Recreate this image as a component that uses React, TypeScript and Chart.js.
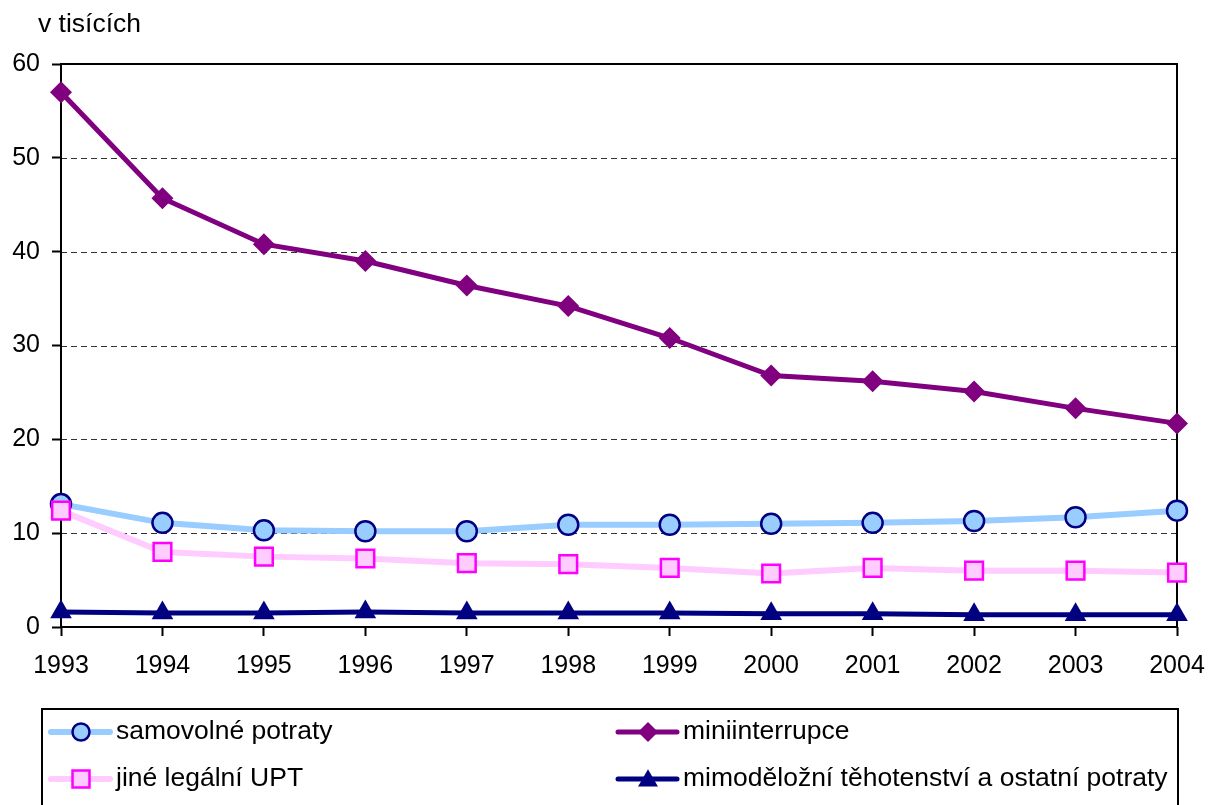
import React, { useEffect, useRef } from "react";
import { Chart, registerables } from "chart.js";

Chart.register(...registerables);

const years = ["1993", "1994", "1995", "1996", "1997", "1998", "1999", "2000", "2001", "2002", "2003", "2004"];
const samovolne = [13.1, 11.1, 10.3, 10.2, 10.2, 10.9, 10.9, 11.0, 11.1, 11.3, 11.7, 12.4];
const miniinterrupce = [57.0, 45.7, 40.8, 39.0, 36.4, 34.2, 30.8, 26.8, 26.2, 25.1, 23.3, 21.7];
const jineLegalni = [12.4, 8.0, 7.5, 7.3, 6.8, 6.7, 6.3, 5.7, 6.3, 6.0, 6.0, 5.8];
const mimodelozni = [1.6, 1.5, 1.5, 1.6, 1.5, 1.5, 1.5, 1.4, 1.4, 1.3, 1.3, 1.3];
const yTicks = [0, 10, 20, 30, 40, 50, 60];
const seriesNames = [
  "samovolné potraty",
  "miniinterrupce",
  "jiné legální UPT",
  "mimoděložní těhotenství a ostatní potraty",
];
const unitLabel = "v tisících";

const FONT = "'Liberation Sans', Arial, sans-serif";

function drawMarker(ctx: CanvasRenderingContext2D, style: string, x: number, y: number, r: number, fill: string, stroke: string, bw: number) {
  ctx.save();
  ctx.beginPath();
  if (style === "circle") {
    ctx.arc(x, y, r, 0, Math.PI * 2);
  } else if (style === "rect") {
    const s = r * Math.SQRT1_2;
    ctx.rect(x - s, y - s, 2 * s, 2 * s);
  } else if (style === "rectRot") {
    ctx.moveTo(x, y - r);
    ctx.lineTo(x + r, y);
    ctx.lineTo(x, y + r);
    ctx.lineTo(x - r, y);
    ctx.closePath();
  } else if (style === "triangle") {
    const h = r * 0.866;
    ctx.moveTo(x, y - r * 0.85);
    ctx.lineTo(x + h, y + r * 0.65);
    ctx.lineTo(x - h, y + r * 0.65);
    ctx.closePath();
  }
  ctx.fillStyle = fill;
  ctx.fill();
  if (bw > 0) {
    ctx.lineWidth = bw;
    ctx.strokeStyle = stroke;
    ctx.stroke();
  }
  ctx.restore();
}

function drawStretchedText(ctx: CanvasRenderingContext2D, text: string, x: number, y: number, size: number, sx: number) {
  ctx.save();
  ctx.font = `${size}px ${FONT}`;
  ctx.fillStyle = "#000";
  ctx.textAlign = "left";
  ctx.textBaseline = "middle";
  ctx.translate(x, y);
  ctx.scale(sx, 1);
  ctx.fillText(text, 0, 0);
  ctx.restore();
}

const framePlugin = {
  id: "framePlugin",
  beforeDatasetsDraw(chart: any) {
    const { ctx, chartArea } = chart;
    const ys = chart.scales.y;
    ctx.save();
    ctx.strokeStyle = "#333";
    ctx.lineWidth = 1;
    ctx.setLineDash([6, 4]);
    for (const v of yTicks) {
      if (v === 0 || v === 60) continue;
      const y = Math.round(ys.getPixelForValue(v)) + 0.5;
      ctx.beginPath();
      ctx.moveTo(chartArea.left, y);
      ctx.lineTo(chartArea.right, y);
      ctx.stroke();
    }
    ctx.setLineDash([]);
    ctx.strokeStyle = "#000";
    ctx.lineWidth = 2;
    ctx.strokeRect(chartArea.left, chartArea.top, chartArea.right - chartArea.left, chartArea.bottom - chartArea.top);
    ctx.restore();
  },
  afterDraw(chart: any) {
    const { ctx } = chart;
    drawStretchedText(ctx, unitLabel, 38, 25, 25, 1.06);
    ctx.save();
    ctx.strokeStyle = "#000";
    ctx.lineWidth = 2;
    ctx.strokeRect(42, 709, 1136, 130);
    ctx.restore();
    const positions = [
      { x: 51, y: 732 },
      { x: 618, y: 732 },
      { x: 51, y: 779 },
      { x: 618, y: 779 },
    ];
    const markerSizes = [8.5, 10, 12, 11.5];
    chart.data.datasets.forEach((ds: any, i: number) => {
      const p = positions[i];
      ctx.save();
      ctx.strokeStyle = ds.borderColor;
      ctx.lineWidth = ds.borderWidth;
      ctx.lineCap = "round";
      ctx.beginPath();
      ctx.moveTo(p.x, p.y);
      ctx.lineTo(p.x + 59, p.y);
      ctx.stroke();
      ctx.restore();
      drawMarker(ctx, ds.pointStyle, p.x + 30, p.y, markerSizes[i], ds.pointBackgroundColor, ds.pointBorderColor, ds.pointBorderWidth);
      drawStretchedText(ctx, ds.label, p.x + 65, p.y, 25, 1.06);
    });
  },
};

export default function App() {
  const canvasRef = useRef<HTMLCanvasElement | null>(null);

  useEffect(() => {
    document.body.style.margin = "0";
    const canvas = canvasRef.current;
    if (!canvas) return;
    const chart = new Chart(canvas, {
      type: "line",
      data: {
        labels: years,
        datasets: [
          {
            label: seriesNames[0],
            data: samovolne,
            borderColor: "#99CCFF",
            borderWidth: 6,
            pointStyle: "circle",
            pointRadius: 10,
            pointBackgroundColor: "#99CCFF",
            pointBorderColor: "#000080",
            pointBorderWidth: 2.5,
            tension: 0,
            order: 4,
          },
          {
            label: seriesNames[1],
            data: miniinterrupce,
            borderColor: "#800080",
            borderWidth: 5,
            pointStyle: "rectRot",
            pointRadius: 11,
            pointBackgroundColor: "#800080",
            pointBorderColor: "#800080",
            pointBorderWidth: 0,
            tension: 0,
            order: 3,
          },
          {
            label: seriesNames[2],
            data: jineLegalni,
            borderColor: "#FFCCFF",
            borderWidth: 6,
            pointStyle: "rect",
            pointRadius: 12.5,
            pointBackgroundColor: "#FFCCFF",
            pointBorderColor: "#FF00FF",
            pointBorderWidth: 2.5,
            tension: 0,
            order: 2,
          },
          {
            label: seriesNames[3],
            data: mimodelozni,
            borderColor: "#000080",
            borderWidth: 5,
            pointStyle: "triangle",
            pointRadius: 12.5,
            pointBackgroundColor: "#000080",
            pointBorderColor: "#000080",
            pointBorderWidth: 0,
            tension: 0,
            order: 1,
          },
        ],
      },
      options: {
        responsive: false,
        animation: false,
        layout: { padding: { top: 64, left: 0, right: 33, bottom: 0 }, autoPadding: false },
        plugins: {
          legend: { display: false },
          tooltip: { enabled: false },
          title: { display: false },
        },
        scales: {
          x: {
            type: "category",
            offset: false,
            border: { display: false },
            grid: {
              display: true,
              drawOnChartArea: false,
              drawTicks: true,
              tickLength: 9,
              tickWidth: 2,
              tickColor: "#000",
            },
            ticks: {
              color: "#000",
              font: { family: FONT, size: 25 },
              padding: 15,
              maxRotation: 0,
              autoSkip: false,
            },
            afterFit(scale: any) {
              scale.height = 178;
              scale.paddingLeft = 0;
              scale.paddingRight = 0;
            },
          },
          y: {
            min: 0,
            max: 60,
            border: { display: false },
            grid: {
              display: true,
              drawOnChartArea: false,
              drawTicks: true,
              tickLength: 9,
              tickWidth: 2,
              tickColor: "#000",
            },
            ticks: {
              stepSize: 10,
              color: "#000",
              font: { family: FONT, size: 25 },
              padding: 12,
            },
            afterFit(scale: any) {
              scale.width = 61;
              scale.paddingTop = 0;
              scale.paddingBottom = 0;
            },
          },
        },
      },
      plugins: [framePlugin],
    });
    return () => chart.destroy();
  }, []);

  return (
    <div style={{ position: "absolute", left: 0, top: 0, width: 1210, height: 805, background: "#fff" }}>
      <canvas ref={canvasRef} width={1210} height={805} style={{ display: "block" }} />
    </div>
  );
}
